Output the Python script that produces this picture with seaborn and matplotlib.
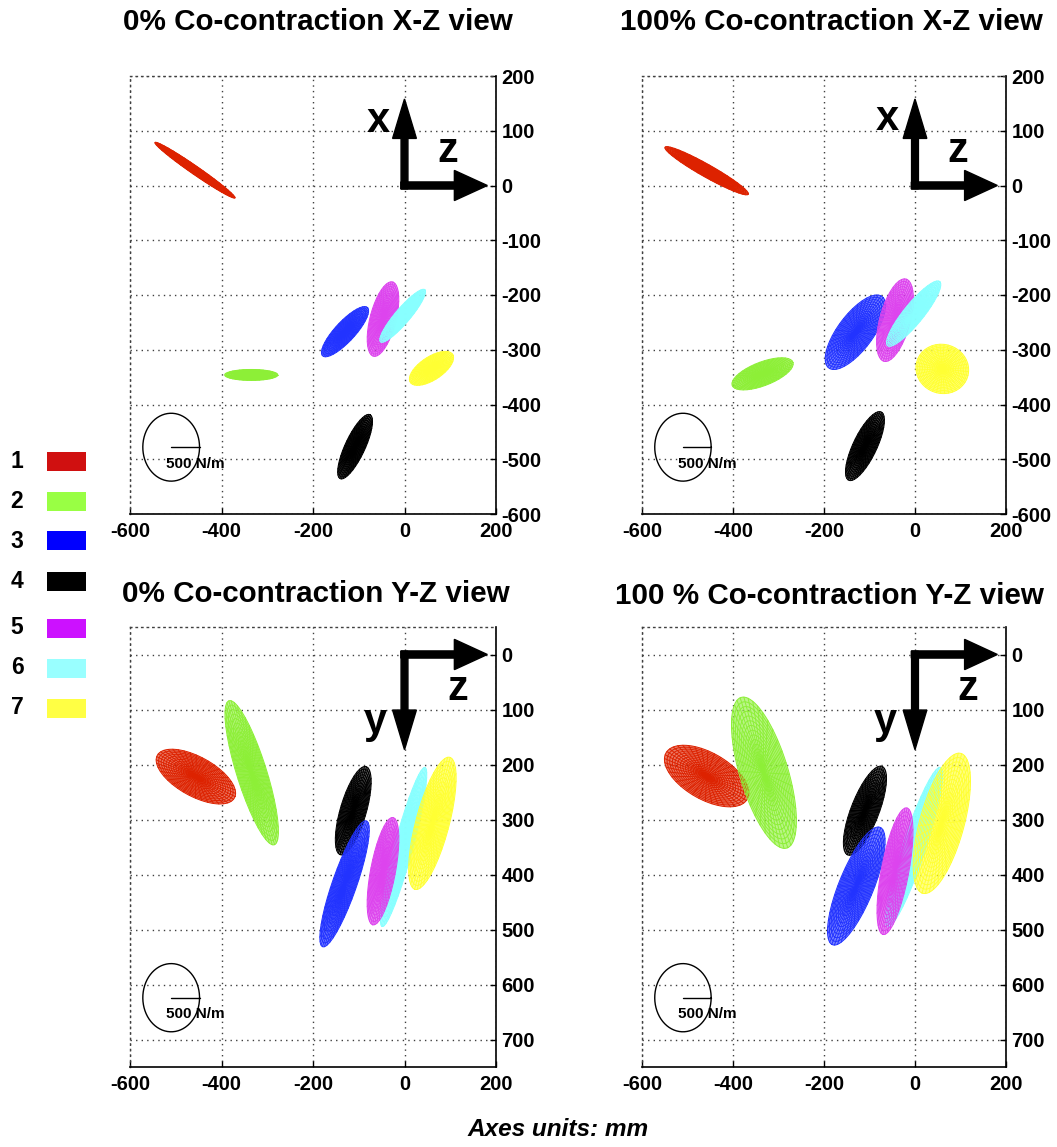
import numpy as np
import pandas as pd
import matplotlib
matplotlib.use("Agg")
import matplotlib.pyplot as plt
from matplotlib.patches import Rectangle
import seaborn as sns

sns.set_style("white")
plt.rcParams["font.family"] = ["Liberation Sans", "DejaVu Sans"]
plt.rcParams["font.weight"] = "bold"
plt.rcParams["axes.unicode_minus"] = False
for key in ["text.color", "axes.labelcolor", "xtick.color", "ytick.color"]:
    plt.rcParams[key] = "black"

# Muscle numbering and colours
muscles = ["1", "2", "3", "4", "5", "6", "7"]
mesh_colors = ["#dd2200", "#8def37", "#2233ff", "#000000", "#dd44ee", "#88ffff", "#ffff33"]
key_colors = ["#d01010", "#99ff44", "#0000ff", "#000000", "#cc11ff", "#99ffff", "#ffff44"]

# X-Z view, 0% co-contraction (centre z, centre x, semi-axes, angle in deg)
xz0_z = [-458, -335, -130, -108, -47, -4, 59]
xz0_v = [28, -346, -267, -477, -244, -238, -334]
xz0_a = [101, 58, 66, 67, 71, 68, 53]
xz0_b = [8, 10, 20, 21, 28, 15, 22]
xz0_ang = [-30, 0, 41, 60, 72, 44, 27]

# X-Z view, 100% co-contraction
xz1_z = [-458, -335, -131, -110, -44, -3, 60]
xz1_v = [27, -344, -268, -476, -246, -234, -335]
xz1_a = [101, 70, 88, 72, 79, 82, 58]
xz1_b = [12, 22, 36, 25, 33, 20, 45]
xz1_ang = [-25, 17, 46, 59, 71, 45, -5]

# Y-Z view, 0% co-contraction (y grows downward)
yz0_z = [-456, -334, -131, -112, -47, -2, 61]
yz0_v = [222, 215, 417, 284, 394, 350, 307]
yz0_a = [93, 140, 124, 85, 100, 152, 126]
yz0_b = [37, 32, 26, 28, 27, 20, 36]
yz0_ang = [23, 69, 113, 110, 103, 108, 108]

# Y-Z view, 100% co-contraction
yz1_z = [-458, -332, -129, -110, -44, -2, 59]
yz1_v = [221, 215, 421, 284, 394, 350, 307]
yz1_a = [99, 146, 119, 89, 118, 156, 134]
yz1_b = [44, 52, 37, 30, 30, 25, 48]
yz1_ang = [23, 69, 117, 116, 103, 112, 109]

# Scale reference: circle radius equivalent to 500 N/m
scale_label = "500 N/m"
scale_radius = 62

x_ticks = [-600, -400, -200, 0, 200]
xz_ticks = [200, 100, 0, -100, -200, -300, -400, -500, -600]
yz_ticks = [0, 100, 200, 300, 400, 500, 600, 700]

titles = ["0% Co-contraction X-Z view", "100% Co-contraction X-Z view",
          "0% Co-contraction Y-Z view", "100 % Co-contraction Y-Z view"]

W, H = 1057, 1147
fig = plt.figure(figsize=(W / 100, H / 100), dpi=100)


def px_box(x0, y0, x1, y1):
    return [x0 / W, 1 - y1 / H, (x1 - x0) / W, (y1 - y0) / H]


def ellipse_mesh(cx, cy, a, b, ang, n_rings=16, n_spokes=40, n_pts=90):
    th = np.deg2rad(ang)
    c, s = np.cos(th), np.sin(th)
    t = np.linspace(0, 2 * np.pi, n_pts)
    frames = []
    unit = 0
    for r in np.linspace(1.0 / n_rings, 1.0, n_rings):
        u, w = r * a * np.cos(t), r * b * np.sin(t)
        frames.append(pd.DataFrame({"z": cx + u * c - w * s,
                                    "v": cy + u * s + w * c, "unit": unit}))
        unit += 1
    for t0 in np.linspace(0, 2 * np.pi, n_spokes, endpoint=False):
        u = np.array([0.0, a * np.cos(t0)])
        w = np.array([0.0, b * np.sin(t0)])
        frames.append(pd.DataFrame({"z": cx + u * c - w * s,
                                    "v": cy + u * s + w * c, "unit": unit}))
        unit += 1
    outline = frames[n_rings - 1]
    return pd.concat(frames, ignore_index=True), outline


def draw_ellipses(ax, zs, vs, As, Bs, angs, order):
    for i in order:
        df, outline = ellipse_mesh(zs[i], vs[i], As[i], Bs[i], angs[i])
        ax.fill(outline["z"], outline["v"], color=mesh_colors[i], alpha=0.6, lw=0, zorder=2)
        sns.lineplot(data=df, x="z", y="v", units="unit", estimator=None, sort=False,
                     color=mesh_colors[i], lw=0.7, ax=ax, legend=False, zorder=3)


def style_axes(ax, ylim, yticks):
    ax.set_xlim(-600, 200)
    ax.set_ylim(*ylim)
    ax.set_xticks(x_ticks)
    ax.set_yticks(yticks)
    ax.set_xlabel("")
    ax.set_ylabel("")
    ax.yaxis.tick_right()
    ax.grid(True, linestyle=(0, (1, 3)), color="0.25", lw=1.0)
    ax.set_axisbelow(True)
    for side in ["top", "left"]:
        ax.spines[side].set_linestyle((0, (1, 3)))
        ax.spines[side].set_color("0.25")
        ax.spines[side].set_linewidth(1.0)
    for side in ["bottom", "right"]:
        ax.spines[side].set_color("black")
        ax.spines[side].set_linewidth(1.2)
    ax.tick_params(axis="both", direction="in", length=4, width=1, labelsize=14.5,
                   bottom=True, right=True, left=False, top=False)
    ax.tick_params(axis="x", pad=6)
    ax.tick_params(axis="y", pad=4)


def scale_circle(ax, cx, cy, text_y):
    t = np.linspace(0, 2 * np.pi, 200)
    ax.plot(cx + scale_radius * np.cos(t), cy + scale_radius * np.sin(t), color="black", lw=1.0)
    ax.plot([cx, cx + scale_radius], [cy, cy], color="black", lw=1.0)
    ax.text(cx - 11, text_y, scale_label, fontsize=11, ha="left", va="center")


def axis_arrows(ax, vert_len, labels, label_pos):
    # shafts meet at the origin; heads drawn in data units
    ax.arrow(0, -6, 0, vert_len + 6, width=15, head_width=52,
             head_length=72, length_includes_head=True, color="black", zorder=6)
    ax.arrow(-8, 0, 189, 0, width=13, head_width=55, head_length=72,
             length_includes_head=True, color="black", zorder=6)
    for lab, (lz, lv) in zip(labels, label_pos):
        ax.text(lz, lv, lab, fontsize=30, ha="center", va="center", zorder=6)


top_order = [0, 1, 2, 3, 4, 5, 6]
side_order = [0, 1, 3, 2, 5, 4, 6]

ax1 = fig.add_axes(px_box(130, 76, 496, 514))
draw_ellipses(ax1, xz0_z, xz0_v, xz0_a, xz0_b, xz0_ang, top_order)
style_axes(ax1, (-600, 200), xz_ticks)
axis_arrows(ax1, 158, ["x", "z"], [(-58, 118), (95, 63)])
scale_circle(ax1, -510, -478, -509)

ax2 = fig.add_axes(px_box(642, 76, 1006, 514))
draw_ellipses(ax2, xz1_z, xz1_v, xz1_a, xz1_b, xz1_ang, top_order)
style_axes(ax2, (-600, 200), xz_ticks)
axis_arrows(ax2, 158, ["x", "z"], [(-60, 122), (93, 63)])
scale_circle(ax2, -510, -478, -509)

ax3 = fig.add_axes(px_box(130, 627, 496, 1067))
draw_ellipses(ax3, yz0_z, yz0_v, yz0_a, yz0_b, yz0_ang, side_order)
style_axes(ax3, (750, -50), yz_ticks)
axis_arrows(ax3, 173, ["y", "z"], [(-64, 122), (117, 62)])
scale_circle(ax3, -510, 624, 653)

ax4 = fig.add_axes(px_box(642, 627, 1006, 1067))
draw_ellipses(ax4, yz1_z, yz1_v, yz1_a, yz1_b, yz1_ang, side_order)
style_axes(ax4, (750, -50), yz_ticks)
axis_arrows(ax4, 173, ["y", "z"], [(-66, 122), (116, 62)])
scale_circle(ax4, -510, 624, 653)

# Panel titles
for (cx, cy), title in zip([(318, 22), (831, 22), (316, 594), (829, 596)], titles):
    fig.text(cx / W, 1 - cy / H, title, fontsize=21.3, ha="center", va="center")

# Colour key
key_y = [461, 501, 541, 581, 628, 668, 708]
for lab, col, y in zip(muscles, key_colors, key_y):
    fig.text(17 / W, 1 - y / H, lab, fontsize=16.5, ha="center", va="center")
    fig.add_artist(Rectangle((47 / W, 1 - (y + 9.5) / H), 39 / W, 19 / H,
                             transform=fig.transFigure, facecolor=col, edgecolor="none"))

fig.text(558 / W, 1 - 1130 / H, "Axes units: mm", fontsize=17.6, style="italic",
         ha="center", va="center")

fig.savefig("out.png", dpi=100)
